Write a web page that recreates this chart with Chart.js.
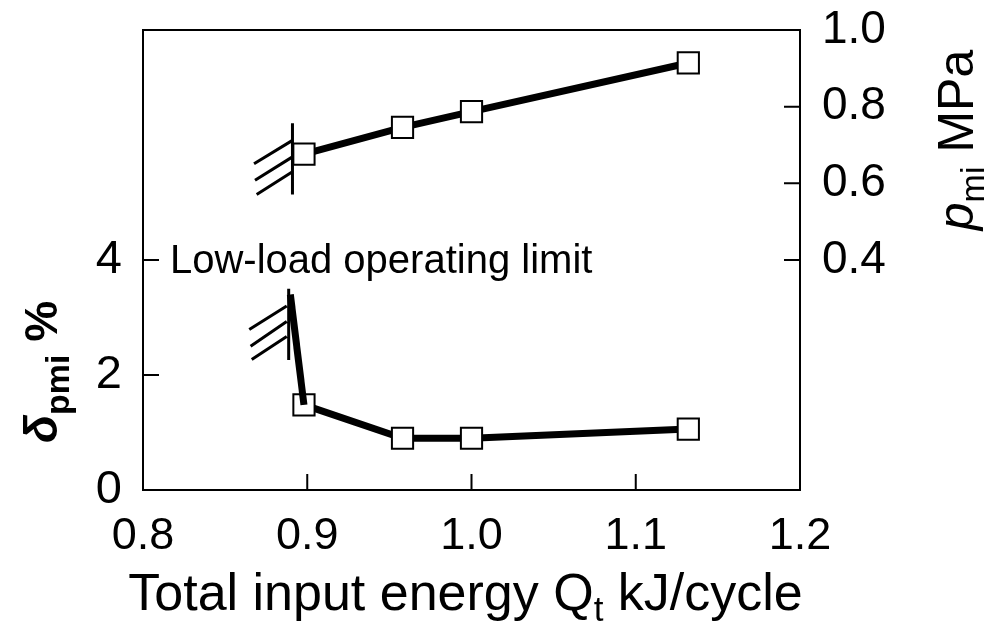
<!DOCTYPE html>
<html lang="en">
<head>
  <meta charset="UTF-8">
  <title>Low-load operating limit</title>
  <style>
    html, body { margin: 0; padding: 0; background: #fff; }
    .chart-box { width: 987px; height: 627px; position: relative; }
  </style>
</head>
<body>
  <div class="chart-box"><canvas id="myChart"></canvas></div>

  <script src="https://cdn.jsdelivr.net/npm/chart.js@4"></script>
  <script>
    // measured points (total input energy, kJ/cycle)
    const energyQt = [0.898, 0.958, 1.000, 1.132];
    const pmiMPa = [0.676, 0.746, 0.787, 0.914];
    const deltaPmi = [1.48, 0.90, 0.90, 1.06];

    // tick values that carry a label
    const xTickLabels = ['0.8', '0.9', '1.0', '1.1', '1.2'];
    const deltaTickLabels = ['0', '2', '4'];
    const pmiTickLabels = ['0.4', '0.6', '0.8', '1.0'];

    // low-load limit marks: wall + hatching, null breaks the segments
    const pmiLimitX = [0.891, 0.891, 0.891, 0.891, 0.8676, 0.891, 0.891, 0.8682, 0.891, 0.891, 0.8692];
    const pmiLimitY = [0.757, 0.571, null, 0.712, 0.651, null, 0.669, 0.608, null, 0.630, 0.571];
    const deltaLimitX = [0.8887, 0.8887, 0.8887, 0.8875, 0.8647, 0.8875, 0.8875, 0.8655, 0.8875, 0.8875, 0.8662];
    const deltaLimitY = [3.50, 2.26, null, 3.20, 2.79, null, 2.93, 2.50, null, 2.67, 2.27];
    // run-up of the delta curve to the limit
    const deltaRunX = [0.8897, energyQt[0]];
    const deltaRunY = [3.40, deltaPmi[0]];

    const limitText = 'Low-load operating limit';

    const pts = (xs, ys) => xs.map((x, i) => ({ x: x, y: ys[i] }));

    const black = '#000';
    const fam = '"Liberation Sans", Arial, sans-serif';

    // frame, inward ticks, axis titles with subscripts, annotation
    const decorPlugin = {
      id: 'decor',
      afterDraw(chart) {
        const ctx = chart.ctx;
        const a = chart.chartArea;
        const sx = chart.scales.x, sy = chart.scales.y, sy2 = chart.scales.y2;
        ctx.save();
        ctx.strokeStyle = black;
        ctx.fillStyle = black;
        ctx.lineWidth = 2;
        ctx.strokeRect(a.left, a.top, a.right - a.left, a.bottom - a.top);

        const tl = 16;
        ctx.beginPath();
        sx.ticks.forEach(t => {
          if (t.value > 0.81 && t.value < 1.19) {
            const px = sx.getPixelForValue(t.value);
            ctx.moveTo(px, a.bottom); ctx.lineTo(px, a.bottom - tl);
          }
        });
        sy.ticks.forEach(t => {
          if (t.value > 0 && t.value <= 4) {
            const py = sy.getPixelForValue(t.value);
            ctx.moveTo(a.left, py); ctx.lineTo(a.left + tl, py);
          }
        });
        sy2.ticks.forEach(t => {
          if (t.value > 0.39 && t.value < 0.99) {
            const py = sy2.getPixelForValue(t.value);
            ctx.moveTo(a.right, py); ctx.lineTo(a.right - tl, py);
          }
        });
        ctx.stroke();

        // annotation
        ctx.font = '40px ' + fam;
        ctx.textAlign = 'left';
        ctx.textBaseline = 'alphabetic';
        ctx.fillText(limitText, sx.getPixelForValue(0.8164), sy.getPixelForValue(3.77));

        // x title
        drawRuns(ctx, [
          { t: 'Total input energy ', f: '52px ' + fam, dy: 0 },
          { t: 'Q', f: '52px ' + fam, dy: 0 },
          { t: 't', f: '35px ' + fam, dy: 11 },
          { t: ' kJ/cycle', f: '52px ' + fam, dy: 0 }
        ], (a.left + a.right) / 2 - 6, 610, 0);

        // left title
        drawRuns(ctx, [
          { t: '\u03B4', f: 'italic bold 46px ' + fam, dy: 0 },
          { t: 'pmi', f: 'bold 34px ' + fam, dy: 12 },
          { t: ' %', f: 'bold 46px ' + fam, dy: 0 }
        ], 57, 372, -Math.PI / 2);

        // right title
        drawRuns(ctx, [
          { t: 'p', f: 'italic 50px ' + fam, dy: 0 },
          { t: 'mi', f: '34px ' + fam, dy: 11 },
          { t: ' MPa', f: '50px ' + fam, dy: 0 }
        ], 973, 140, -Math.PI / 2);
        ctx.restore();
      }
    };

    function drawRuns(ctx, runs, cx, cy, rot) {
      let total = 0;
      runs.forEach(r => { ctx.font = r.f; r.w = ctx.measureText(r.t).width; total += r.w; });
      ctx.save();
      ctx.translate(cx, cy);
      ctx.rotate(rot);
      ctx.textAlign = 'left';
      ctx.textBaseline = 'alphabetic';
      let x = -total / 2;
      runs.forEach(r => {
        ctx.font = r.f;
        ctx.fillText(r.t, x, r.dy);
        x += r.w;
      });
      ctx.restore();
    }

    const vFit = w => s => { s.width = w; s.paddingTop = 0; s.paddingBottom = 0; };

    const ctx = document.getElementById('myChart').getContext('2d');
    new Chart(ctx, {
      type: 'line',
      data: {
        datasets: [
          {
            label: 'pmi limit',
            data: pts(pmiLimitX, pmiLimitY),
            yAxisID: 'y2',
            borderColor: black,
            borderWidth: 3,
            pointRadius: 0,
            spanGaps: false
          },
          {
            label: 'delta limit',
            data: pts(deltaLimitX, deltaLimitY),
            yAxisID: 'y',
            borderColor: black,
            borderWidth: 3,
            pointRadius: 0,
            spanGaps: false
          },
          {
            label: 'delta run-up',
            data: pts(deltaRunX, deltaRunY),
            yAxisID: 'y',
            borderColor: black,
            borderWidth: 7,
            pointRadius: 0
          },
          {
            label: 'pmi',
            data: pts(energyQt, pmiMPa),
            yAxisID: 'y2',
            borderColor: black,
            borderWidth: 7,
            pointStyle: 'rect',
            pointRadius: 15,
            pointBorderWidth: 2,
            pointBackgroundColor: '#fff',
            pointBorderColor: black
          },
          {
            label: 'delta pmi',
            data: pts(energyQt, deltaPmi),
            yAxisID: 'y',
            borderColor: black,
            borderWidth: 7,
            pointStyle: 'rect',
            pointRadius: 15,
            pointBorderWidth: 2,
            pointBackgroundColor: '#fff',
            pointBorderColor: black
          }
        ]
      },
      options: {
        responsive: true,
        maintainAspectRatio: false,
        animation: false,
        layout: { padding: { top: 30, left: 0, right: 0, bottom: 0 } },
        plugins: { legend: { display: false }, tooltip: { enabled: false } },
        elements: { line: { tension: 0 } },
        scales: {
          x: {
            type: 'linear',
            min: 0.8,
            max: 1.2,
            grid: { display: false, drawTicks: false },
            border: { display: false },
            afterFit: s => { s.height = 137; s.paddingLeft = 0; s.paddingRight = 0; },
            ticks: {
              stepSize: 0.1,
              padding: 20,
              color: black,
              font: { family: fam, size: 45 },
              callback: v => xTickLabels.find(l => Math.abs(parseFloat(l) - v) < 1e-6) || ''
            }
          },
          y: {
            type: 'linear',
            position: 'left',
            min: 0,
            max: 8,
            grid: { display: false, drawTicks: false },
            border: { display: false },
            afterFit: vFit(143),
            ticks: {
              stepSize: 2,
              padding: 21,
              color: black,
              font: { family: fam, size: 47 },
              callback: v => deltaTickLabels.find(l => Math.abs(parseFloat(l) - v) < 1e-6) || ''
            }
          },
          y2: {
            type: 'linear',
            position: 'right',
            min: -0.2,
            max: 1.0,
            grid: { display: false, drawTicks: false },
            border: { display: false },
            afterFit: vFit(187),
            ticks: {
              stepSize: 0.2,
              padding: 22,
              color: black,
              font: { family: fam, size: 46 },
              callback: v => pmiTickLabels.find(l => Math.abs(parseFloat(l) - v) < 1e-6) || ''
            }
          }
        }
      },
      plugins: [decorPlugin]
    });
  </script>
</body>
</html>
